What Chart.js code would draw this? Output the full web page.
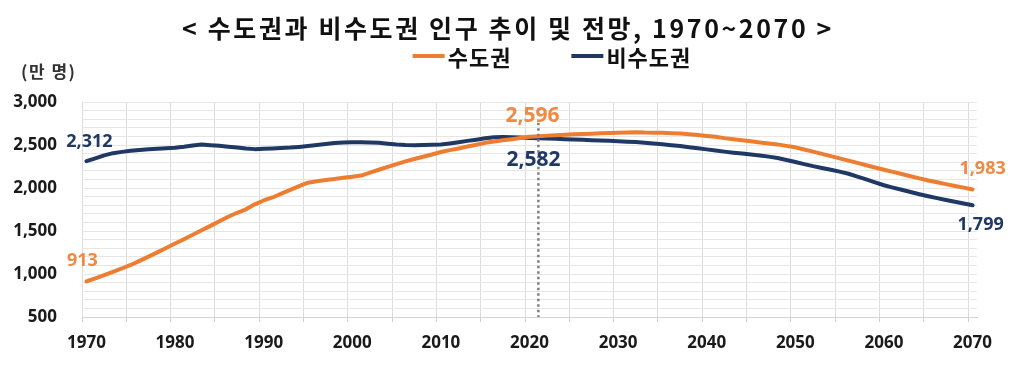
<!DOCTYPE html>
<html><head><meta charset="utf-8">
<script src="https://cdn.jsdelivr.net/npm/chart.js@4/dist/chart.umd.min.js"></script>
<style>html,body{margin:0;padding:0;background:#fff;}#wrap{width:1024px;height:367px;}</style>
</head><body><div id="wrap"><canvas id="c" width="1024" height="367"></canvas></div>
<script>
const titleText = '< 수도권과 비수도권 인구 추이 및 전망, 1970~2070 >';
const unitText = '(만 명)';
const seriesNames = ['수도권', '비수도권'];
const years = [1970,1971,1972,1973,1974,1975,1976,1977,1978,1979,1980,1981,1982,1983,1984,1985,1986,1987,1988,1989,
  1990,1991,1992,1993,1994,1995,1996,1997,1998,1999,2000,2001,2002,2003,2004,2005,2006,2007,2008,2009,
  2010,2011,2012,2013,2014,2015,2016,2017,2018,2019,2020,2021,2022,2023,2024,2025,2026,2027,2028,2029,
  2030,2031,2032,2033,2034,2035,2036,2037,2038,2039,2040,2041,2042,2043,2044,2045,2046,2047,2048,2049,
  2050,2051,2052,2053,2054,2055,2056,2057,2058,2059,2060,2061,2062,2063,2064,2065,2066,2067,2068,2069,2070];
const metroPop = [913,950,988,1026,1064,1105,1153,1202,1252,1302,1354,1405,1456,1508,1560,1613,1666,1712,1752,1810,
  1855,1890,1935,1978,2022,2062,2078,2092,2105,2118,2132,2145,2178,2212,2245,2278,2310,2337,2364,2390,
  2418,2440,2460,2482,2503,2525,2540,2555,2568,2582,2596,2603,2609,2614,2619,2624,2628,2632,2636,2639,
  2642,2645,2648,2644,2643,2641,2638,2633,2626,2617,2605,2595,2580,2568,2555,2543,2530,2518,2507,2490,
  2473,2448,2423,2397,2371,2345,2318,2292,2265,2239,2212,2187,2162,2137,2112,2088,2066,2045,2024,2004,1983];
const nonMetroPop = [2312,2345,2380,2405,2420,2432,2442,2450,2455,2462,2468,2480,2495,2505,2498,2490,2480,2472,2460,2452,
  2455,2460,2465,2470,2478,2488,2500,2512,2522,2530,2533,2532,2530,2527,2515,2505,2500,2498,2500,2503,
  2506,2518,2532,2548,2562,2578,2590,2592,2590,2586,2582,2578,2575,2572,2568,2565,2560,2555,2552,2548,
  2543,2539,2535,2527,2518,2508,2497,2488,2475,2462,2449,2436,2423,2411,2400,2390,2378,2365,2348,2326,
  2302,2278,2254,2233,2212,2190,2166,2133,2100,2066,2032,2005,1979,1953,1928,1904,1882,1861,1840,1820,1799];
const xTickLabels = ['1970','1980','1990','2000','2010','2020','2030','2040','2050','2060','2070'];
const yTickLabels = [500,1000,1500,2000,2500,3000];
const calloutYears = [1970, 2020, 2070];
const dividerYear = 2021;
const dividerTopValue = 2760;

const ORANGE = '#ED7D31', ORANGE_TXT = '#EE8A44', NAVY = '#1F3864';
const seriesColors = [ORANGE, NAVY];
const labelColors = [ORANGE_TXT, NAVY];
const KFONT = "'Noto Sans CJK KR', 'Noto Sans', sans-serif";
const NFONT = "'Noto Sans', 'DejaVu Sans', sans-serif";

const calloutStyle = {
  '0-1970': {dx: -4, dy: -21, size: 18},
  '1-1970': {dx: 3, dy: -19, size: 18},
  '0-2020': {dx: 3, dy: -21, size: 21},
  '1-2020': {dx: 4, dy: 22, size: 21},
  '0-2070': {dx: 10, dy: -21, size: 18},
  '1-2070': {dx: 8, dy: 20, size: 18}
};

const overlay = {
  id: 'overlay',
  afterDatasetsDraw(chart) {
    const {ctx, scales: {x, y}, chartArea} = chart;
    ctx.save();
    const dx = x.getPixelForValue(years.indexOf(dividerYear));
    ctx.strokeStyle = '#7f7f7f';
    ctx.lineWidth = 2.5;
    ctx.setLineDash([2.5, 3]);
    ctx.beginPath();
    ctx.moveTo(dx, y.getPixelForValue(dividerTopValue));
    ctx.lineTo(dx, chartArea.bottom);
    ctx.stroke();
    ctx.setLineDash([]);

    ctx.textAlign = 'center';
    ctx.textBaseline = 'middle';
    chart.data.datasets.forEach((ds, si) => {
      const meta = chart.getDatasetMeta(si);
      calloutYears.forEach(yr => {
        const idx = years.indexOf(yr);
        const pt = meta.data[idx];
        const st = calloutStyle[si + '-' + yr];
        ctx.font = 'bold ' + st.size + 'px ' + NFONT;
        ctx.fillStyle = labelColors[si];
        ctx.fillText(ds.data[idx].toLocaleString('en-US'), pt.x + st.dx, pt.y + st.dy);
      });
    });
    ctx.restore();
  },
  afterDraw(chart) {
    const ctx = chart.ctx;
    ctx.save();
    ctx.font = 'bold 25px ' + KFONT;
    ctx.letterSpacing = '2.6px';
    ctx.fillStyle = '#111';
    ctx.textAlign = 'center';
    ctx.textBaseline = 'middle';
    ctx.fillText(titleText, 508, 28);
    ctx.letterSpacing = '1px';
    ctx.font = 'bold 22px ' + KFONT;
    ctx.textAlign = 'left';
    const sw = 32, gapT = 3, gapItem = 60;
    const widths = seriesNames.map(n => sw + gapT + ctx.measureText(n).width);
    const total = widths.reduce((a, b) => a + b, 0) + gapItem * (seriesNames.length - 1);
    let lx = 552 - total / 2;
    seriesNames.forEach((n, i) => {
      ctx.fillStyle = seriesColors[i];
      ctx.fillRect(lx, 54, sw, 4);
      ctx.fillStyle = '#111';
      ctx.fillText(n, lx + sw + gapT, 58);
      lx += widths[i] + gapItem;
    });
    ctx.font = 'bold 17px ' + KFONT;
    ctx.letterSpacing = '1.5px';
    ctx.fillStyle = '#333';
    ctx.fillText(unitText, 21, 72);
    ctx.restore();
  }
};

new Chart(document.getElementById('c'), {
  type: 'line',
  data: {
    labels: years,
    datasets: [
      {label: seriesNames[0], data: metroPop, borderColor: ORANGE, backgroundColor: ORANGE, borderWidth: 4,
       pointRadius: 0, tension: 0, borderCapStyle: 'round', borderJoinStyle: 'round'},
      {label: seriesNames[1], data: nonMetroPop, borderColor: NAVY, backgroundColor: NAVY, borderWidth: 4,
       pointRadius: 0, tension: 0, borderCapStyle: 'round', borderJoinStyle: 'round'}
    ]
  },
  options: {
    responsive: false,
    animation: false,
    layout: {padding: {top: 102, left: 12, right: 47, bottom: 14}},
    plugins: {legend: {display: false}, title: {display: false}, tooltip: {enabled: false}},
    scales: {
      x: {
        type: 'category',
        offset: true,
        afterFit: s => { s.height = 36; },
        grid: {
          offset: true,
          color: c => (c.index % 5 === 0 ? '#dcdcdc' : 'rgba(0,0,0,0)'),
          tickColor: c => (c.index % 5 === 0 ? '#cfcfcf' : 'rgba(0,0,0,0)'),
          drawTicks: true, tickLength: 5, lineWidth: 1
        },
        border: {color: '#d4d4d4'},
        ticks: {
          autoSkip: false, maxRotation: 0, minRotation: 0, padding: 11, color: '#1a1a1a',
          font: {family: NFONT, weight: 'bold', size: 17},
          callback: (v, i) => (xTickLabels.includes(String(years[i])) ? String(years[i]) : '')
        }
      },
      y: {
        min: 500, max: 3000,
        afterFit: s => { s.width = 70; },
        grid: {color: '#e6e6e6', drawTicks: false, lineWidth: 1},
        border: {display: false},
        ticks: {
          stepSize: 100, autoSkip: false, maxTicksLimit: 40, padding: 25, color: '#1a1a1a',
          font: {family: NFONT, weight: 'bold', size: 17},
          callback: v => (yTickLabels.includes(v) ? v.toLocaleString('en-US') : '')
        }
      }
    }
  },
  plugins: [overlay]
});
</script></body></html>
